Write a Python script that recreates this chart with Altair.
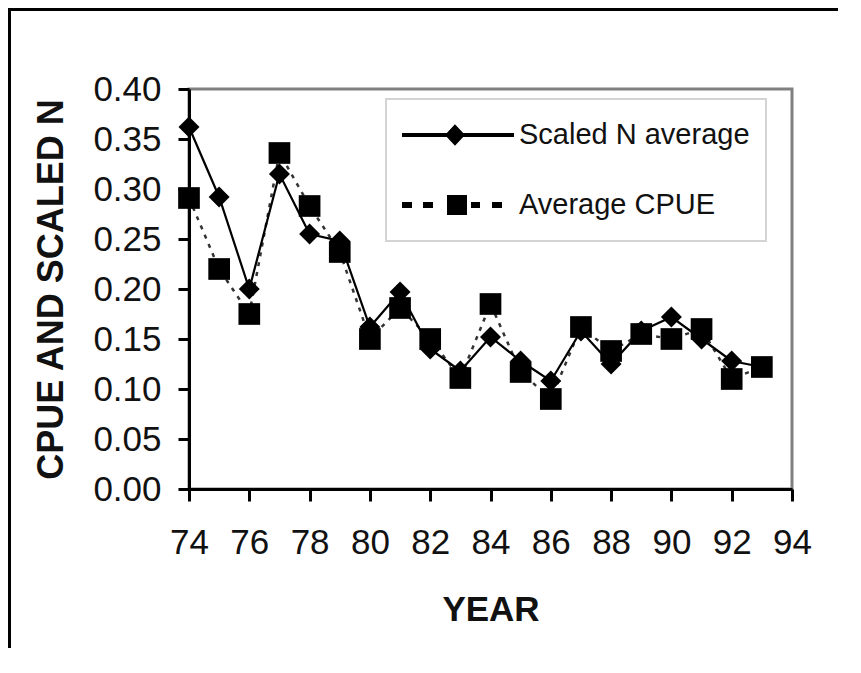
import altair as alt
import pandas as pd

years = list(range(74, 94))
scaled_n = [0.362, 0.292, 0.200, 0.315, 0.255, 0.248, 0.162, 0.197, 0.140, 0.118,
            0.152, 0.128, 0.108, 0.158, 0.125, 0.158, 0.172, 0.150, 0.128, 0.122]
avg_cpue = [0.291, 0.220, 0.175, 0.336, 0.283, 0.237, 0.150, 0.181, 0.150, 0.111,
            0.185, 0.117, 0.090, 0.162, 0.138, 0.155, 0.150, 0.160, 0.110, 0.122]
series_names = ["Scaled N average", "Average CPUE"]
x_ticks = list(range(74, 95, 2))
y_ticks = [0.0, 0.05, 0.10, 0.15, 0.20, 0.25, 0.30, 0.35, 0.40]

df = pd.DataFrame({
    "year": years * 2,
    "value": scaled_n + avg_cpue,
    "series": [series_names[0]] * len(years) + [series_names[1]] * len(years),
})

FONT = "Liberation Sans"

def rect(x0, x1, y0, y1):
    return f"M{x0},{y0}L{x1},{y0}L{x1},{y1}L{x0},{y1}Z"

def u(px):
    return round(px / 56.0, 4)

path_n = rect(-1, 1, -0.036, 0.036) + "M-0.054,-0.19L0.126,0L-0.054,0.19L-0.234,0Z"
path_c = "".join([
    rect(u(-56), u(-46), -0.054, 0.054),
    rect(u(-35), u(-25), -0.054, 0.054),
    rect(u(-11), u(9), -0.179, 0.179),
    rect(u(13), u(22), -0.054, 0.054),
    rect(u(34), u(44), -0.054, 0.054),
])

x_enc = alt.X("year:Q",
              scale=alt.Scale(domain=[74, 94], nice=False, zero=False),
              axis=alt.Axis(values=x_ticks, format="d", title="YEAR", grid=False,
                            tickSize=12, tickWidth=3, domainWidth=3, domainColor="black",
                            tickColor="black", labelFontSize=35, labelFont=FONT,
                            labelColor="#111", labelPadding=24, titleFont=FONT,
                            titleFontSize=35, titleFontWeight="bold", titleColor="#111",
                            titlePadding=32, labelFlush=False))
y_enc = alt.Y("value:Q",
              scale=alt.Scale(domain=[0, 0.4], nice=False),
              axis=alt.Axis(values=y_ticks, format=".2f", title="CPUE AND SCALED N",
                            grid=False, tickSize=11, tickWidth=3, domainWidth=3,
                            domainColor="black", tickColor="black", labelFontSize=35,
                            labelFont=FONT, labelColor="#111", labelPadding=17,
                            titleFont=FONT, titleFontSize=36, titleFontWeight="bold",
                            titleColor="#111", titlePadding=22, labelFlush=False))

base = alt.Chart(df)

n_line = base.transform_filter(alt.datum.series == series_names[0]).mark_line(
    color="black", strokeWidth=2.2).encode(x=x_enc, y=y_enc)
n_pts = base.transform_filter(alt.datum.series == series_names[0]).mark_point(
    shape="diamond", filled=True, color="black", size=440, opacity=1).encode(x=x_enc, y=y_enc)
c_line = base.transform_filter(alt.datum.series == series_names[1]).mark_line(
    color="#333", strokeWidth=2.5, strokeDash=[4, 6]).encode(x=x_enc, y=y_enc)
c_pts = base.transform_filter(alt.datum.series == series_names[1]).mark_point(
    shape="square", filled=True, color="black", size=470, opacity=1).encode(x=x_enc, y=y_enc)

legend_layer = base.mark_point(filled=True, color="black", opacity=0, size=1).encode(
    x=x_enc, y=y_enc,
    shape=alt.Shape("series:N",
                    scale=alt.Scale(domain=series_names, range=[path_n, path_c]),
                    sort=series_names,
                    legend=alt.Legend(title=None, orient="none", legendX=197, legendY=10,
                                      symbolSize=12544, symbolFillColor="black",
                                      symbolStrokeWidth=0, symbolOpacity=1,
                                      labelFont=FONT, labelFontSize=29, labelColor="#111",
                                      labelOffset=5, labelLimit=600, clipHeight=40,
                                      rowPadding=30, padding=16, strokeColor="#d4d4d4")),
)

one = pd.DataFrame({"k": [0]})
frame_left = alt.Chart(one).mark_rule(color="black", strokeWidth=3).encode(
    x=alt.value(-179.5), y=alt.value(-79.5), y2=alt.value(560))
frame_top = alt.Chart(one).mark_rule(color="black", strokeWidth=3).encode(
    x=alt.value(-181), x2=alt.value(650), y=alt.value(-79.5))

chart = alt.layer(frame_left, frame_top, c_line, n_line, c_pts, n_pts, legend_layer).properties(
    width=603, height=400,
    autosize=alt.AutoSizeParams(type="none"),
    padding={"left": 181, "top": 81, "right": 46, "bottom": 159},
).configure_view(stroke="#808080", strokeWidth=3).configure_legend(strokeWidth=2)

chart.save("out.html", embed_options={"renderer": "svg", "actions": False})
